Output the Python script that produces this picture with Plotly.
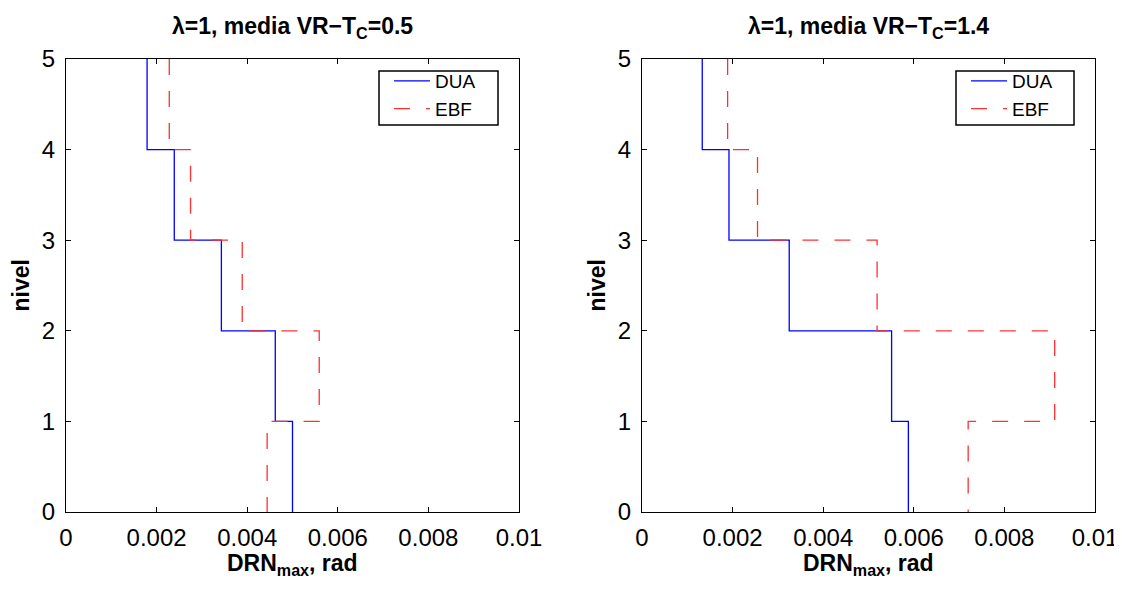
import plotly.graph_objects as go

# Story levels (top of each story) and max drift per story
niveles = [5, 4, 3, 2, 1]
dua_05 = [0.00179, 0.00239, 0.00343, 0.00462, 0.00500]
ebf_05 = [0.00228, 0.00275, 0.00389, 0.00559, 0.00444]
dua_14 = [0.00133, 0.00192, 0.00325, 0.00551, 0.00588]
ebf_14 = [0.00189, 0.00255, 0.00519, 0.00911, 0.00720]

titles = ["<b>λ=1, media VR−T<sub>C</sub>=0.5</b>", "<b>λ=1, media VR−T<sub>C</sub>=1.4</b>"]
x_ticks = [0, 0.002, 0.004, 0.006, 0.008, 0.01]
x_ticklabels = ["0", "0.002", "0.004", "0.006", "0.008", "0.01"]
y_ticks = [0, 1, 2, 3, 4, 5]

FONT = "Arial, Liberation Sans, Helvetica, sans-serif"
W, H = 1122, 593
OFF = 8  # page body margin


def SX(px):
    return (px - OFF) / W


def SY(py):
    return 1 - (py - OFF) / H


def stairs(vals, levels):
    xs = list(vals) + [vals[-1]]
    ys = list(levels) + [levels[-1] - 1]
    return xs, ys


fig = go.Figure()
panels = [(dua_05, ebf_05, "x", "y", "legend"), (dua_14, ebf_14, "x2", "y2", "legend2")]
for dua, ebf, xa, ya, lg in panels:
    xs, ys = stairs(dua, niveles)
    fig.add_trace(go.Scatter(x=xs, y=ys, mode="lines", line_shape="vh",
                             line=dict(color="#0000ff", width=1.3),
                             name="DUA", xaxis=xa, yaxis=ya, legend=lg))
    xs, ys = stairs(ebf, niveles)
    fig.add_trace(go.Scatter(x=xs, y=ys, mode="lines", line_shape="vh",
                             line=dict(color="#ff3030", width=1.3, dash="16px,16px"),
                             name="EBF", xaxis=xa, yaxis=ya, legend=lg))

ytop, ybot = SY(59), SY(512)
doms = [(SX(66), SX(519)), (SX(642), SX(1095))]

axis_common = dict(showgrid=False, zeroline=False, showline=True, linecolor="black",
                   linewidth=1.2, mirror="ticks", ticks="inside", ticklen=5,
                   tickcolor="black", automargin=False,
                   tickfont=dict(family=FONT, size=24, color="black"))

legend_common = dict(xanchor="left", yanchor="top", y=SY(62),
                     borderwidth=0, bgcolor="rgba(0,0,0,0)",
                     font=dict(family=FONT, size=19, color="black"),
                     tracegroupgap=0, itemwidth=36)

# legend frames (pixel boxes in the page)
legend_boxes = [(379, 71, 498, 125), (956, 71, 1074, 125)]

fig.update_layout(
    width=W, height=H, autosize=False, margin=dict(l=0, r=0, t=0, b=0, pad=0),
    paper_bgcolor="white", plot_bgcolor="white",
    xaxis=dict(domain=doms[0], range=[0, 0.01], tickvals=x_ticks, ticktext=x_ticklabels,
               anchor="y", ticklabelstandoff=4, **axis_common),
    yaxis=dict(domain=[ybot, ytop], range=[0, 5], tickvals=y_ticks, anchor="x",
               ticklabelstandoff=5, **axis_common),
    xaxis2=dict(domain=doms[1], range=[0, 0.01], tickvals=x_ticks, ticktext=x_ticklabels,
                anchor="y2", ticklabelstandoff=4, **axis_common),
    yaxis2=dict(domain=[ybot, ytop], range=[0, 5], tickvals=y_ticks, anchor="x2",
                ticklabelstandoff=5, **axis_common),
    legend=dict(x=SX(legend_boxes[0][0] + 10), **legend_common),
    legend2=dict(x=SX(legend_boxes[1][0] + 10), **legend_common),
    showlegend=True,
    shapes=[dict(type="rect", xref="paper", yref="paper",
                 x0=SX(b[0]), x1=SX(b[2]), y0=SY(b[3]), y1=SY(b[1]),
                 line=dict(color="black", width=1.5), fillcolor="white", layer="above")
            for b in legend_boxes],
)

anns = []
for i, (d0, d1) in enumerate(doms):
    cx = (d0 + d1) / 2
    anns.append(dict(text=titles[i], x=cx, y=SY(28), xref="paper", yref="paper",
                     xanchor="center", yanchor="middle", showarrow=False,
                     font=dict(family=FONT, size=23, color="black")))
    anns.append(dict(text="<b>DRN<sub>max</sub>, rad</b>", x=cx, y=SY(548),
                     xref="paper", yref="paper", xanchor="center", yanchor="top",
                     showarrow=False, font=dict(family=FONT, size=23, color="black")))
    anns.append(dict(text="<b>nivel</b>", x=d0 - 46 / W, y=(ybot + ytop) / 2,
                     xref="paper", yref="paper", xanchor="center", yanchor="middle",
                     textangle=-90, showarrow=False,
                     font=dict(family=FONT, size=23, color="black")))
fig.update_layout(annotations=anns)

fig.write_html("out.html")
